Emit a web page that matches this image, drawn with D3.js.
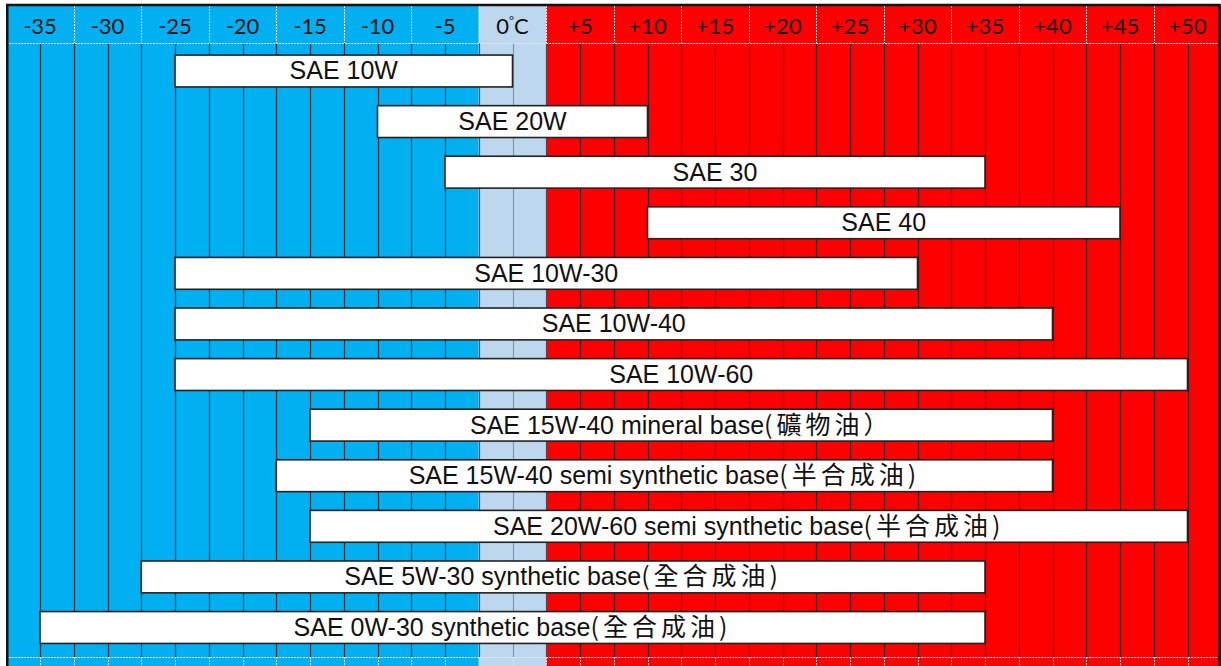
<!DOCTYPE html>
<html>
<head>
<meta charset="utf-8">
<script src="https://cdn.jsdelivr.net/npm/d3@7"></script>
<style>
  body { margin: 0; background: #fff; }
  svg { display: block; }
</style>
</head>
<body>
<script>
// Temperature ticks in the header (deg C)
var tempTicks = [-35, -30, -25, -20, -15, -10, -5, 0, 5, 10, 15, 20, 25, 30, 35, 40, 45, 50];
var tickLabels = ["-35", "-30", "-25", "-20", "-15", "-10", "-5", "0", "+5", "+10", "+15", "+20", "+25", "+30", "+35", "+40", "+45", "+50"];

// Oil grades, with optional chinese suffix
var oils = ["SAE 10W", "SAE 20W", "SAE 30", "SAE 40", "SAE 10W-30", "SAE 10W-40", "SAE 10W-60",
            "SAE 15W-40 mineral base", "SAE 15W-40 semi synthetic base", "SAE 20W-60 semi synthetic base",
            "SAE 5W-30 synthetic base", "SAE 0W-30 synthetic base"];
var oilsCn = ["", "", "", "", "", "", "", "(礦物油）", "(半合成油)", "(半合成油)", "(全合成油)", "(全合成油)"];
var lowTemps = [-25, -10, -5, 10, -25, -25, -25, -15, -17.5, -15, -27.5, -35];
var highTemps = [0, 10, 35, 45, 30, 40, 50, 40, 40, 50, 35, 35];

var width = 1221, height = 666;
var headerTop = 6, headerBottom = 43, bodyBottom = 657;

var svg = d3.select("body").append("svg")
    .attr("width", width)
    .attr("height", height);

var x = d3.scaleLinear()
    .domain([-37.5, 52.5])
    .range([6.25, 1221.25]);

var y = d3.scaleBand()
    .domain(oils)
    .range([45.7, 652.8])
    .paddingInner(0.37)
    .paddingOuter(0.185);

// Background bands: cold, around zero, warm
var zones = [
  {from: -37.5, to: -2.5, color: "#00B0F0"},
  {from: -2.5, to: 2.5, color: "#BDD7EE"},
  {from: 2.5, to: 52.5, color: "#FF0000"}
];
svg.selectAll("rect.zone")
   .data(zones)
   .enter().append("rect")
   .attr("class", "zone")
   .attr("x", function(d){ return x(d.from); })
   .attr("width", function(d){ return x(d.to) - x(d.from); })
   .attr("y", headerTop)
   .attr("height", height - headerTop)
   .attr("fill", function(d){ return d.color; });

// Grid lines every 2.5 degrees in the body
var gridVals = d3.range(-35, 52.5, 2.5);
svg.selectAll("line.grid")
   .data(gridVals)
   .enter().append("line")
   .attr("class", "grid")
   .attr("x1", function(d){ return Math.round(x(d)) + 0.5; })
   .attr("x2", function(d){ return Math.round(x(d)) + 0.5; })
   .attr("y1", headerBottom)
   .attr("y2", bodyBottom)
   .attr("stroke", function(d){ return Math.abs(d) <= 2.5 && d != 0 ? "#34495e" : (d == 0 ? "#7f8c9a" : "#1b1b1b"); })
   .attr("stroke-opacity", 0.85)
   .attr("stroke-width", 1.2);

// Dotted separators in header and footer
var headerSeps = d3.range(-32.5, 52.5, 5);
svg.selectAll("line.hsep")
   .data(headerSeps)
   .enter().append("line")
   .attr("class", "hsep")
   .attr("x1", function(d){ return Math.round(x(d)) + 0.5; })
   .attr("x2", function(d){ return Math.round(x(d)) + 0.5; })
   .attr("y1", headerTop)
   .attr("y2", headerBottom)
   .attr("stroke", "#e8e8e8")
   .attr("stroke-dasharray", "2,1");

svg.selectAll("line.fsep")
   .data(gridVals)
   .enter().append("line")
   .attr("class", "fsep")
   .attr("x1", function(d){ return Math.round(x(d)) + 0.5; })
   .attr("x2", function(d){ return Math.round(x(d)) + 0.5; })
   .attr("y1", bodyBottom)
   .attr("y2", height)
   .attr("stroke", "#e0e0e0")
   .attr("stroke-dasharray", "2,1");

[headerBottom, bodyBottom].forEach(function(yy){
  svg.append("line")
     .attr("x1", x(-37.5)).attr("x2", width)
     .attr("y1", yy + 0.5).attr("y2", yy + 0.5)
     .attr("stroke", "#e8e8e8")
     .attr("stroke-dasharray", "2,1");
});

// Header labels
var header = svg.selectAll("text.tick")
   .data(tempTicks)
   .enter().append("text")
   .attr("class", "tick")
   .attr("x", function(d){ return x(d); })
   .attr("y", 34)
   .attr("text-anchor", "middle")
   .style("font-family", "Lato, 'Liberation Sans', sans-serif")
   .style("font-size", "22px")
   .attr("fill", "#111");

header.each(function(d, i){
  var t = d3.select(this);
  if (d === 0) {
    t.append("tspan").text("0");
    t.append("tspan").attr("dy", -9).style("font-size", "12px").text("°");
    t.append("tspan").attr("dy", 9).text("C");
  } else {
    t.text(tickLabels[i]);
  }
});

// Outer frame (top, left, right)
svg.append("path")
   .attr("d", "M" + (x(-37.5) + 1) + "," + height + "V" + (headerTop - 1) + "H" + (width - 1.5) + "V" + height)
   .attr("fill", "none")
   .attr("stroke", "#111")
   .attr("stroke-width", 2.5);

// Oil bars
var bars = svg.selectAll("g.oil")
   .data(oils)
   .enter().append("g")
   .attr("class", "oil");

bars.append("rect")
    .attr("x", function(d, i){ return x(lowTemps[i]); })
    .attr("width", function(d, i){ return x(highTemps[i]) - x(lowTemps[i]); })
    .attr("y", function(d){ return y(d); })
    .attr("height", y.bandwidth())
    .attr("fill", "#fff")
    .attr("stroke", "#222")
    .attr("stroke-width", 1.6);

var labels = bars.append("text")
    .attr("x", function(d, i){ return (x(lowTemps[i]) + x(highTemps[i])) / 2; })
    .attr("y", function(d){ return y(d) + y.bandwidth() / 2 + 8.5; })
    .attr("text-anchor", "middle")
    .style("font-family", "Arial, 'Liberation Sans', sans-serif")
    .style("font-size", "25px")
    .attr("fill", "#111");

labels.append("tspan").text(function(d){ return d; });
labels.append("tspan")
      .style("font-family", "'Noto Sans CJK TC', sans-serif")
      .style("font-size", "25px")
      .style("letter-spacing", "4px")
      .text(function(d, i){ return oilsCn[i]; });
</script>
</body>
</html>
